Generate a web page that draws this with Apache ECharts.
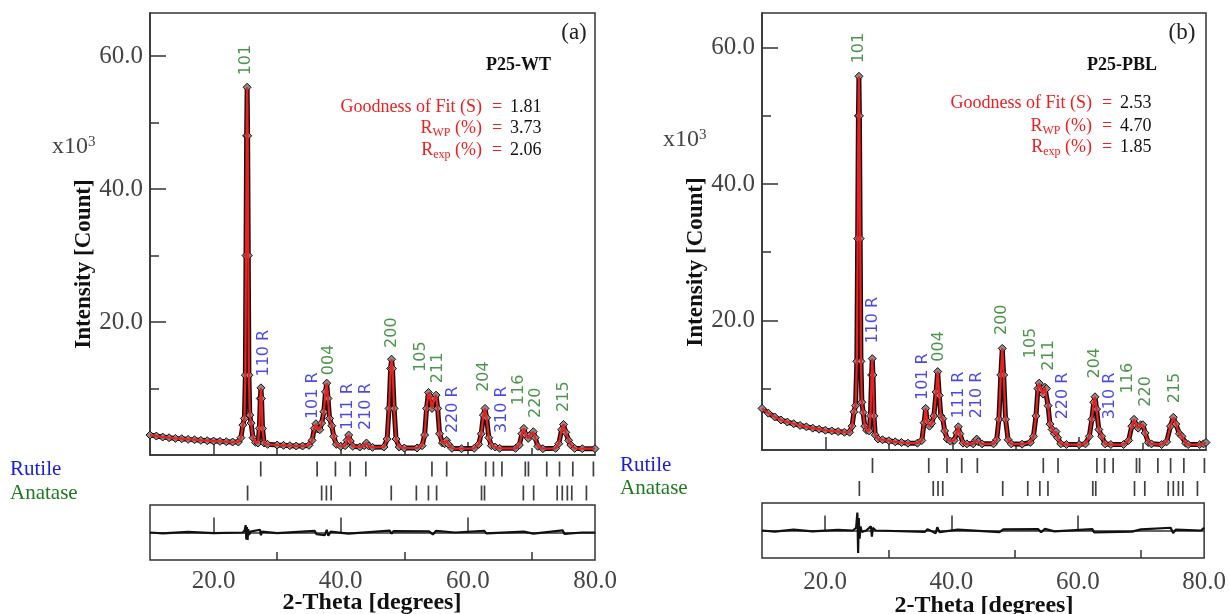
<!DOCTYPE html>
<html><head><meta charset="utf-8">
<script src="https://cdn.jsdelivr.net/npm/echarts@6/dist/echarts.min.js"></script>
<style>html,body{margin:0;padding:0;background:#fff}#c{width:1229px;height:614px}</style>
</head><body><div id="c"></div>
<script>
// ---------- data ----------
const X_MIN = 10, X_MAX = 80;
const xTickLabels = [20, 40, 60, 80];
const xMajorTicks = [20, 40, 60];
const xMinorTicks = [30, 50, 70];
const yLabelTicks = [20, 40, 60];
const yMinorTicks = [10, 30, 50];
const phases = ['Rutile', 'Anatase'];
const panelTags = ['(a)', '(b)'];
const sampleNames = ['P25-WT', 'P25-PBL'];
const fitNames = ['Goodness of Fit (S)', 'R_WP (%)', 'R_exp (%)'];
const fitValuesA = ['1.81', '3.73', '2.06'];
const fitValuesB = ['2.53', '4.70', '1.85'];

// observed / calculated profile, [2-theta, intensity x10^3]
const profileA = [[10,3.0],[11,2.85],[12,2.7],[13,2.6],[14,2.5],[15,2.45],[16,2.35],[17,2.3],[18,2.2],[19,2.15],[20,2.1],[21,2.05],[22,2.0],[23,1.95],[23.9,1.95],[24.3,2.6],[24.6,4.5],[24.85,5.5],[25.0,12],[25.1,30],[25.2,48],[25.28,55.3],[25.36,48],[25.46,30],[25.56,12],[25.7,6],[25.9,4.8],[26.2,2.6],[26.6,1.9],[27.0,1.8],[27.2,4],[27.35,8.5],[27.45,10.1],[27.55,8.5],[27.7,4],[27.95,1.8],[28.5,1.6],[30,1.5],[31,1.45],[32,1.4],[33,1.35],[34,1.35],[35,1.45],[35.5,2.2],[35.85,4.0],[36.1,4.7],[36.35,3.9],[36.7,3.8],[37.0,4.8],[37.35,6.5],[37.6,9.5],[37.8,10.8],[38.0,8.5],[38.25,5.5],[38.6,4.4],[38.9,2.8],[39.3,1.6],[40,1.3],[40.7,1.4],[41.0,2.2],[41.25,3.0],[41.5,2.1],[41.9,1.3],[43,1.2],[43.7,1.4],[44.05,1.8],[44.4,1.35],[45,1.15],[46.8,1.2],[47.3,2.4],[47.6,7],[47.85,13],[48.0,14.4],[48.15,13],[48.4,7],[48.7,2.4],[49.2,1.2],[50,1.05],[52,1.05],[52.8,1.4],[53.2,3],[53.5,7],[53.8,9.4],[54.05,8.8],[54.35,7.0],[54.7,8.5],[55.0,9.0],[55.25,7],[55.55,3.2],[56.0,1.8],[56.35,1.7],[56.65,2.2],[56.95,1.6],[57.5,1.0],[59,0.95],[61.0,1.0],[61.7,1.6],[62.1,3.2],[62.45,6],[62.7,7.0],[62.95,5.6],[63.3,2.6],[63.7,1.4],[64.3,1.2],[65,1.0],[67.5,1.0],[68.1,1.5],[68.5,3.2],[68.8,4.0],[69.1,3.0],[69.5,2.5],[69.9,3.1],[70.3,3.5],[70.6,2.6],[71.0,1.3],[71.8,0.95],[73.8,1.0],[74.3,1.7],[74.75,3.8],[75.05,4.6],[75.4,3.4],[75.85,2.2],[76.2,1.5],[76.8,1.0],[78,0.95],[80,0.95]];
const profileB = [[10,7.1],[11,6.4],[12,5.85],[13,5.4],[14,5.1],[15,4.85],[16,4.6],[17,4.4],[18,4.2],[19,4.05],[20,3.9],[21,3.8],[22,3.7],[23,3.6],[23.8,3.6],[24.2,4.5],[24.5,6.6],[24.75,7.5],[24.95,14],[25.08,32],[25.2,50],[25.28,55.8],[25.36,50],[25.48,32],[25.6,14],[25.75,8.0],[25.95,6.5],[26.2,4.5],[26.5,3.9],[26.9,3.8],[27.1,6],[27.28,12],[27.38,14.4],[27.5,12],[27.65,6],[27.85,3.2],[28.3,2.6],[29,2.5],[30,2.35],[31,2.2],[32,2.1],[33,2.0],[34.5,2.0],[35.2,2.4],[35.55,5],[35.8,7.1],[36.05,5.2],[36.4,4.5],[36.75,4.9],[37.1,6],[37.45,9.5],[37.7,12.5],[37.95,9],[38.2,6],[38.5,5.6],[38.8,3.8],[39.2,2.6],[39.7,2.3],[40.3,2.4],[40.7,3.5],[40.95,4.4],[41.2,3.4],[41.7,2.0],[42.3,1.9],[43.3,1.9],[43.65,2.4],[43.85,2.6],[44.1,2.2],[44.7,1.9],[46.5,1.9],[47.0,2.5],[47.35,5.5],[47.65,12],[47.88,15.9],[48.1,12],[48.4,5.5],[48.8,2.5],[49.3,1.9],[51,1.85],[52.3,2.1],[52.8,3.0],[53.2,6],[53.5,10],[53.7,10.8],[53.95,10.0],[54.3,9.2],[54.6,10.2],[54.85,10.0],[55.1,7.5],[55.4,4.8],[55.75,4.0],[56.1,3.4],[56.35,3.7],[56.6,2.8],[57.1,1.9],[58,1.8],[60,1.8],[61.0,1.9],[61.6,3.0],[62.0,5.5],[62.3,8],[62.5,8.8],[62.75,7],[63.1,4],[63.55,3.0],[64.1,1.9],[65,1.8],[67,1.8],[67.8,2.4],[68.3,4.5],[68.65,5.5],[69.0,4.6],[69.3,4.2],[69.7,4.7],[70.05,4.7],[70.4,3.5],[70.9,2.1],[71.4,1.9],[73,1.8],[73.8,2.2],[74.4,4.5],[74.85,5.8],[75.25,4.8],[75.8,3.4],[76.2,3.0],[76.8,2.0],[77.2,1.8],[79,1.8],[79.6,1.9],[80,2.1]];

// difference curve (obs - calc), relative units
const residualA = [[10,0],[12,-0.03],[16,0.02],[20,-0.02],[24.6,0],[24.9,0.08],[25.05,0.27],[25.15,-0.25],[25.25,0.2],[25.35,-0.27],[25.45,0.12],[25.6,-0.08],[25.8,0.03],[27.3,0.1],[27.45,-0.1],[27.6,0.03],[30,-0.02],[35.9,0.06],[36.2,-0.06],[37.5,-0.1],[37.8,0.1],[38.05,-0.12],[38.4,0.03],[41.2,-0.04],[47.7,0.07],[48.0,-0.04],[48.3,0.05],[53.9,0.04],[54.5,-0.07],[55.0,0.06],[58,0],[62.6,0.06],[62.9,-0.03],[68.8,0.03],[70.3,-0.04],[74.9,0.08],[75.2,-0.05],[78,0],[80,0]];
const residualB = [[10,0],[12,-0.04],[15,0.03],[18,-0.03],[22,0.02],[24.4,0],[24.9,0.1],[25.1,0.65],[25.22,-0.82],[25.32,0.45],[25.45,-0.3],[25.6,0.15],[25.8,-0.05],[26.5,0],[27.25,0.15],[27.4,-0.22],[27.55,0.1],[28,0],[35.8,-0.05],[36.2,0.05],[37.5,-0.1],[37.75,0.12],[38.1,-0.06],[41,0.03],[47.6,-0.06],[47.9,-0.1],[48.2,0.04],[53.7,0.05],[54.2,-0.06],[54.8,0.06],[56.3,-0.03],[62.3,0.05],[62.6,-0.07],[68.6,-0.04],[70,0.04],[74.7,0.1],[75.1,-0.09],[75.5,0.03],[79.5,0],[80,0.1]];

// reflection positions
const rutileRefs = [27.42,36.29,39.17,41.49,43.95,54.35,56.67,62.8,64.02,65.36,69.04,69.53,72.41,74.42,76.51,79.75];
const anataseRefs = [25.35,37.0,37.75,38.5,47.95,51.9,53.8,55.08,62.15,62.62,68.73,70.35,74.05,74.85,75.65,76.35,78.65];

// peak annotations [2-theta, intensity of label start, text, phase]
const peakLabelsA = [[25.1,57.1,'101','A'],[27.9,11.8,'110 R','R'],[35.64,5.4,'101 R','R'],[38.16,12.0,'004','A'],[41.15,3.76,'111 R','R'],[43.98,3.76,'210 R','R'],[48.07,16.1,'200','A'],[52.63,12.5,'105','A'],[55.3,10.8,'211','A'],[57.66,3.3,'220 R','R'],[62.54,9.5,'204','A'],[65.37,3.3,'310 R','R'],[68.05,7.5,'116','A'],[70.72,5.56,'220','A'],[75.13,6.47,'215','A']];
const peakLabelsB = [[25.34,57.7,'101','A'],[27.55,16.6,'110 R','R'],[35.33,8.33,'101 R','R'],[37.95,13.95,'004','A'],[41.06,5.65,'111 R','R'],[43.94,5.65,'210 R','R'],[47.88,17.86,'200','A'],[52.36,14.45,'105','A'],[55.29,12.63,'211','A'],[57.5,5.5,'220 R','R'],[62.5,11.5,'204','A'],[64.86,5.5,'310 R','R'],[67.75,9.3,'116','A'],[70.54,7.35,'220','A'],[75.11,7.85,'215','A']];

// ---------- layout & style ----------
const BLUE = '#1a1ae6', GREEN = '#1f7a1f', RED = '#f01e1e', AX = '#333';
const SERIF = "'Liberation Serif','Times New Roman',serif";
const NUMFONT = SERIF;
const layouts = [
  {left:150, width:445, mainBottom:455, yMin:0, yMax:66.47, tickTop:457, tickH:48, resTop:505, resH:55, labMargin:140, xLabMargin:9,
   tag:[574,33], sample:[551,65], eqX:497, statY:[107,128,150], x10:[52,147], yTitle:[84,264], xTitle:[372,603]},
  {left:762, width:444, mainBottom:450, yMin:1, yMax:65.08, tickTop:454, tickH:46, resTop:503, resH:55, labMargin:142, xLabMargin:12,
   tag:[1182,33], sample:[1157,65], eqX:1107, statY:[103,126,147], x10:[663,140], yTitle:[696,262], xTitle:[984,606]}
];
const panelsData = [
  {profile:profileA, residual:residualA, labels:peakLabelsA, fit:fitValuesA},
  {profile:profileB, residual:residualB, labels:peakLabelsB, fit:fitValuesB}
];

const grids = [], xAxes = [], yAxes = [], series = [], graphics = [];
const line = {color: AX, width: 1.5};

layouts.forEach((L, k) => {
  const D = panelsData[k];
  const g0 = k*3, x0 = k*5, y0 = k*4;
  grids.push(
    {left:L.left, width:L.width, top:13, height:L.mainBottom-13, show:true, borderColor:AX, borderWidth:1.5},
    {left:L.left, width:L.width, top:L.tickTop, height:L.tickH},
    {left:L.left, width:L.width, top:L.resTop, height:L.resH, show:true, borderColor:AX, borderWidth:1.5}
  );
  xAxes.push(
    {gridIndex:g0, type:'value', position:'bottom', min:X_MIN, max:X_MAX, axisLine:{show:true, lineStyle:line},
     axisTick:{show:true, inside:true, length:13, customValues:xMajorTicks, lineStyle:line},
     axisLabel:{show:false}, splitLine:{show:false}},
    {gridIndex:g0, type:'value', position:'bottom', min:X_MIN, max:X_MAX, axisLine:{show:false},
     axisTick:{show:true, inside:true, length:7, customValues:xMinorTicks, lineStyle:line},
     axisLabel:{show:false}, splitLine:{show:false}},
    {gridIndex:g0+1, type:'value', position:'bottom', min:X_MIN, max:X_MAX, show:false},
    {gridIndex:g0+2, type:'value', position:'bottom', min:X_MIN, max:X_MAX, axisLine:{show:true, lineStyle:line},
     axisTick:{show:true, inside:true, length:15, customValues:xMajorTicks, lineStyle:line},
     axisLabel:{show:true, customValues:xTickLabels, formatter:v=>Number(v).toFixed(1), margin:L.xLabMargin,
       fontFamily:NUMFONT, fontSize:25, color:'#444'},
     splitLine:{show:false}},
    {gridIndex:g0+2, type:'value', position:'bottom', min:X_MIN, max:X_MAX, axisLine:{show:false},
     axisTick:{show:true, inside:true, length:8, customValues:xMinorTicks, lineStyle:line},
     axisLabel:{show:false}, splitLine:{show:false}}
  );
  yAxes.push(
    {gridIndex:g0, type:'value', position:'left', min:L.yMin, max:L.yMax, axisLine:{show:true, lineStyle:line},
     axisTick:{show:true, inside:true, length:16, customValues:yLabelTicks, lineStyle:line},
     axisLabel:{show:true, customValues:yLabelTicks, formatter:v=>Number(v).toFixed(1), margin:7,
       fontFamily:NUMFONT, fontSize:25, color:'#444'},
     splitLine:{show:false}},
    {gridIndex:g0, type:'value', position:'left', min:L.yMin, max:L.yMax, axisLine:{show:false},
     axisTick:{show:true, inside:true, length:9, customValues:yMinorTicks, lineStyle:line},
     axisLabel:{show:false}, splitLine:{show:false}},
    {gridIndex:g0+1, type:'category', position:'left', data:phases, inverse:true, axisLine:{show:false}, axisTick:{show:false},
     axisLabel:{show:true, interval:0, align:'left', margin:L.labMargin, fontFamily:SERIF, fontSize:21,
       color:(v)=> v==='Rutile' ? BLUE : GREEN}},
    {gridIndex:g0+2, type:'value', position:'left', min:-1, max:1, show:false}
  );
  series.push(
    {type:'line', xAxisIndex:x0, yAxisIndex:y0, data:D.profile, z:2, symbol:'diamond', symbolSize:8,
     itemStyle:{color:'#8c8c8c', borderColor:'#111', borderWidth:1}, lineStyle:{color:'#111', width:5}},
    {type:'line', xAxisIndex:x0, yAxisIndex:y0, data:D.profile, z:3, symbol:'none',
     lineStyle:{color:RED, width:2.2}},
    {type:'scatter', xAxisIndex:x0, yAxisIndex:y0, z:4, symbolSize:0.1, itemStyle:{color:'rgba(0,0,0,0)'},
     data:D.labels.map(a=>({value:[a[0],a[1]], name:a[2], label:{color: a[3]==='R' ? BLUE : GREEN}})),
     label:{show:true, formatter:'{b}', position:'inside', rotate:90, align:'left', verticalAlign:'middle',
       fontFamily:"'DejaVu Sans',sans-serif", fontSize:16}},
    {type:'scatter', xAxisIndex:x0+2, yAxisIndex:y0+2, symbol:'rect', symbolSize:[1.7,15],
     itemStyle:{color:'#111'}, data:rutileRefs.map(v=>[v,'Rutile'])},
    {type:'scatter', xAxisIndex:x0+2, yAxisIndex:y0+2, symbol:'rect', symbolSize:[1.7,15],
     itemStyle:{color:'#111'}, data:anataseRefs.map(v=>[v,'Anatase'])},
    {type:'line', xAxisIndex:x0+3, yAxisIndex:y0+3, data:D.residual, symbol:'none',
     lineStyle:{color:'#111', width:2.2}}
  );
  // annotations
  graphics.push(
    {type:'text', x:L.tag[0], y:L.tag[1], style:{text:panelTags[k], font:`23px ${SERIF}`, fill:'#222', align:'center', verticalAlign:'middle'}},
    {type:'text', x:L.sample[0], y:L.sample[1], style:{text:sampleNames[k], font:`bold 18px ${SERIF}`, fill:'#111', align:'right', verticalAlign:'middle'}},
    {type:'text', x:L.x10[0], y:L.x10[1], style:{text:'{a|x10}{b|3}', align:'left', verticalAlign:'middle',
      rich:{a:{fontFamily:NUMFONT, fontSize:24, fill:'#444', lineHeight:24}, b:{fontFamily:NUMFONT, fontSize:15, fill:'#444', lineHeight:12, verticalAlign:'top'}}}},
    {type:'text', x:L.yTitle[0], y:L.yTitle[1], rotation:Math.PI/2, style:{text:'Intensity [Count]', font:`bold 23px ${SERIF}`, fill:'#111', align:'center', verticalAlign:'middle'}},
    {type:'text', x:L.xTitle[0], y:L.xTitle[1], style:{text:'2-Theta [degrees]', font:`bold 24px ${SERIF}`, fill:'#111', align:'center', verticalAlign:'middle'}}
  );
  const richR = {r:{fontFamily:SERIF, fontSize:18, fill:RED, lineHeight:22}, s:{fontFamily:SERIF, fontSize:12, fill:RED, lineHeight:9, verticalAlign:'bottom'}};
  const leftTexts = ['{r|' + fitNames[0] + '}', '{r|R}{s|WP}{r| (%)}', '{r|R}{s|exp}{r| (%)}'];
  leftTexts.forEach((t, i) => {
    const y = L.statY[i];
    graphics.push(
      {type:'text', x:L.eqX-15, y:y, style:{text:t, rich:richR, align:'right', verticalAlign:'middle'}},
      {type:'text', x:L.eqX, y:y, style:{text:'=', font:`18px ${SERIF}`, fill:RED, align:'center', verticalAlign:'middle'}},
      {type:'text', x:L.eqX+13, y:y, style:{text:D.fit[i], font:`18px ${SERIF}`, fill:'#111', align:'left', verticalAlign:'middle'}}
    );
  });
});

const chart = echarts.init(document.getElementById('c'));
chart.setOption({
  animation:false,
  backgroundColor:'#fff',
  grid:grids, xAxis:xAxes, yAxis:yAxes, series:series, graphic:graphics
});
</script></body></html>
